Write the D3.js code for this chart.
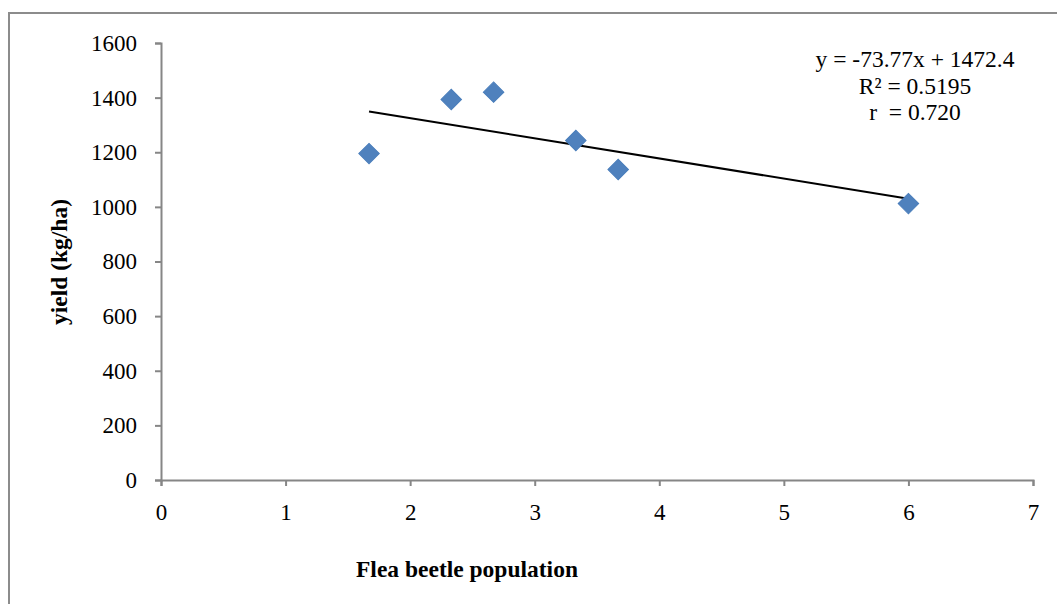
<!DOCTYPE html>
<html>
<head>
<meta charset="utf-8">
<script src="https://cdn.jsdelivr.net/npm/d3@7"></script>
<style>
  body { margin: 0; background: #fff; }
  text { font-family: "Liberation Serif", "Times New Roman", serif; fill: #000; white-space: pre; }
</style>
</head>
<body>
<div id="chart"></div>
<script>
// flea beetle population vs yield
const population = [1.67, 2.33, 2.67, 3.33, 3.67, 6.0];
const yieldKg = [1195, 1393, 1420, 1243, 1137, 1012];
const xTicks = [0, 1, 2, 3, 4, 5, 6, 7];
const yTicks = [0, 200, 400, 600, 800, 1000, 1200, 1400, 1600];
const slope = -73.77, intercept = 1472.4;
const eqLines = ["y = -73.77x + 1472.4", "R\u00b2 = 0.5195", "r  = 0.720"];

const width = 1057, height = 604;
const margin = { top: 43, right: 24, bottom: 124, left: 161 };

const svg = d3.select("#chart").append("svg")
  .attr("width", width)
  .attr("height", height);

// outer frame (runs off the right and bottom edge)
svg.append("rect")
  .attr("x", 9).attr("y", 13)
  .attr("width", 1200).attr("height", 800)
  .attr("fill", "none")
  .attr("stroke", "#8c8c8c")
  .attr("stroke-width", 2);

let xScale = d3.scaleLinear()
  .domain([0, 7])
  .range([margin.left, width - margin.right]);
let yScale = d3.scaleLinear()
  .domain([0, 1600])
  .range([height - margin.bottom, margin.top]);

let xAxis = d3.axisBottom(xScale).tickValues(xTicks).tickFormat(d3.format("d"))
  .tickSize(6).tickSizeOuter(6).tickPadding(18);
let yAxis = d3.axisLeft(yScale).tickValues(yTicks).tickFormat(d3.format("d"))
  .tickSize(6).tickSizeOuter(6).tickPadding(18);

let gx = svg.append("g")
  .attr("class", "x-axis")
  .attr("transform", `translate(0,${yScale(0)})`)
  .call(xAxis);
let gy = svg.append("g")
  .attr("class", "y-axis")
  .attr("transform", `translate(${xScale(0)},0)`)
  .call(yAxis);

[gx, gy].forEach(g => {
  g.selectAll("path, line").attr("stroke", "#868686").attr("stroke-width", 2);
  g.selectAll("text")
    .style("font-family", '"Liberation Serif", "Times New Roman", serif')
    .style("font-size", "23px")
    .attr("fill", "#000");
});

// trend line
let x0 = d3.min(population), x1 = d3.max(population);
svg.append("line")
  .attr("x1", xScale(x0)).attr("y1", yScale(slope * x0 + intercept))
  .attr("x2", xScale(x1)).attr("y2", yScale(slope * x1 + intercept))
  .attr("stroke", "#000")
  .attr("stroke-width", 2);

// diamond markers
let pts = population.map((d, i) => ({ x: d, y: yieldKg[i] }));
svg.selectAll(".pt")
  .data(pts)
  .enter()
  .append("path")
  .attr("class", "pt")
  .attr("d", d3.symbol().type(d3.symbolSquare).size(210))
  .attr("transform", d => `translate(${xScale(d.x)},${yScale(d.y)}) rotate(45)`)
  .attr("fill", "#4f81bd")
  .attr("stroke", "#4a7ebb")
  .attr("stroke-width", 1);

// equation box
svg.append("g")
  .selectAll("text")
  .data(eqLines)
  .enter()
  .append("text")
  .attr("x", 915)
  .attr("y", (d, i) => 67 + i * 26.7)
  .attr("text-anchor", "middle")
  .style("font-size", "23.5px")
  .text(d => d);

// axis titles
svg.append("text")
  .attr("x", 467).attr("y", 577)
  .attr("text-anchor", "middle")
  .style("font-size", "23.5px")
  .style("font-weight", "bold")
  .text("Flea beetle population");

svg.append("text")
  .attr("transform", "translate(67,262) rotate(-90)")
  .attr("text-anchor", "middle")
  .style("font-size", "23.5px")
  .style("font-weight", "bold")
  .text("yield (kg/ha)");
</script>
</body>
</html>
